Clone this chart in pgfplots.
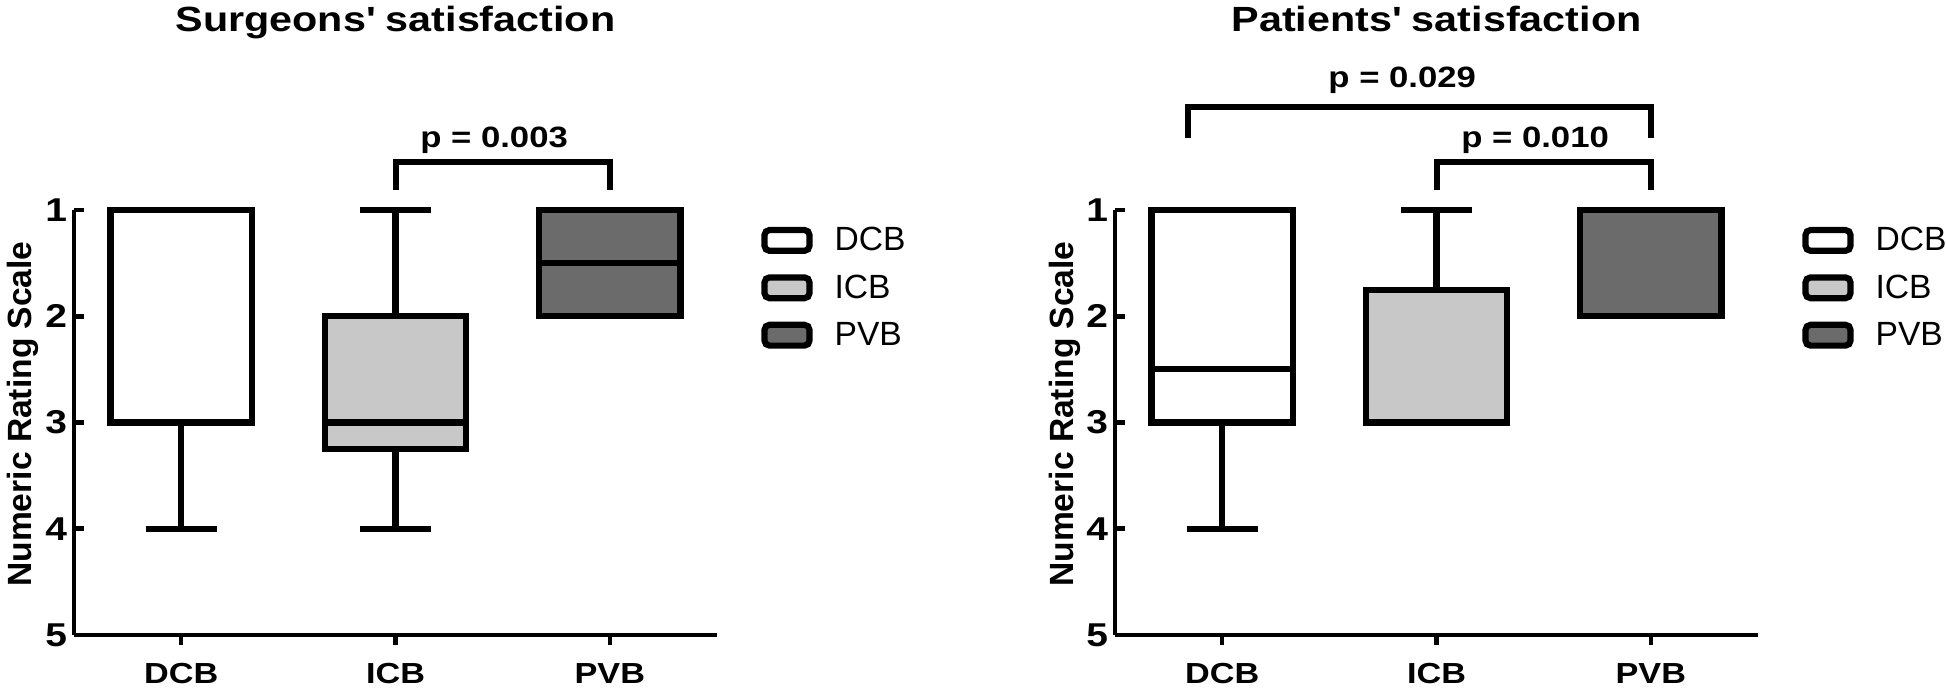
\documentclass[border=0pt]{standalone}
\usepackage{fontspec}
\setmainfont{Liberation Sans}
\newfontfamily\wb{Liberation Sans}[FakeStretch=1.18]
\usepackage{pgfplots}
\usepgfplotslibrary{statistics}
\pgfplotsset{compat=1.18}
\definecolor{icbfill}{HTML}{C8C8C8}
\definecolor{pvbfill}{HTML}{6B6B6B}

\tikzset{
  ttl/.style={font=\wb\fontsize{17.5}{21}\selectfont\bfseries, anchor=base},
  pv/.style={font=\wb\fontsize{14.7}{17}\selectfont\bfseries, anchor=base},
}
\pgfplotsset{
  nrs/.style={
    scale only axis, width=321.5pt, height=212.5pt,
    xmin=-0.5, xmax=2.5, ymin=1, ymax=5, y dir=reverse,
    axis x line*=bottom, axis y line*=left,
    axis line style={line width=2.3pt,-},
    xtick={0,1,2}, xticklabels={DCB,ICB,PVB},
    ytick={1,2,3,4,5},
    xtick align=outside, ytick align=inside,
    major tick length=5pt,
    tick style={line width=2.3pt,black},
    /pgf/number format/assume math mode=true,
    yticklabel style={font=\wb\fontsize{16.5}{19}\selectfont\bfseries},
    xticklabel style={font=\wb\fontsize{14.5}{17}\selectfont\bfseries, anchor=base, yshift=-19pt},
    ylabel={Numeric Rating Scale},
    ylabel style={font=\fontsize{16.8}{20}\selectfont\bfseries, at={([xshift=-21pt]axis description cs:0,0.52)}, anchor=base},
    clip=false,
    boxplot/draw direction=y,
    boxplot/box extend=0.66,
    boxplot/whisker extend=0.33,
    legend style={draw=none, fill=none, at={(1,1)}, anchor=north west, xshift=19pt, yshift=-6.25pt,
      font=\fontsize{16.8}{20}\selectfont, row sep=10.2pt, nodes={inner sep=0pt},
      /tikz/every odd column/.append style={column sep=11pt}},
    legend cell align=left,
  },
  bx/.style={draw=black, line width=3.1pt, fill=#1, solid, line join=miter, forget plot},
  br/.style={black, line width=3pt, line join=miter, forget plot},
  sw/.style={legend image code/.code={\draw[line width=3.1pt, fill=#1, rounded corners=2.5pt] (0pt,-5.2pt) rectangle (22.5pt,5.2pt);}},
}

\begin{document}
\begin{tikzpicture}
\path[use as bounding box] (-37pt,-26pt) rectangle (936pt,317.5pt);

% Surgeons
\begin{axis}[nrs, at={(0pt,0pt)}]
  \addplot[bx=white, boxplot prepared={draw position=0, lower whisker=1, lower quartile=1, median=3, upper quartile=3, upper whisker=4}] coordinates {};
  \addplot[bx=icbfill, boxplot prepared={draw position=1, lower whisker=1, lower quartile=2, median=3, upper quartile=3.25, upper whisker=4}] coordinates {};
  \addplot[bx=pvbfill, boxplot prepared={draw position=2, lower whisker=1, lower quartile=1, median=1.5, upper quartile=2, upper whisker=2}] coordinates {};
  \addplot[br] coordinates {(1,0.816) (1,0.548) (2,0.548) (2,0.816)};
  \node[pv] at (axis cs:1.46,0.407) {p = 0.003};
  \node[ttl] at (axis cs:1,-0.68) {Surgeons\textquotesingle\ satisfaction};
  \addlegendimage{sw=white}\addlegendentry{DCB}
  \addlegendimage{sw=icbfill}\addlegendentry{ICB}
  \addlegendimage{sw=pvbfill}\addlegendentry{PVB}
\end{axis}

% Patients
\begin{axis}[nrs, at={(520.5pt,0pt)}]
  \addplot[bx=white, boxplot prepared={draw position=0, lower whisker=1, lower quartile=1, median=2.5, upper quartile=3, upper whisker=4}] coordinates {};
  \addplot[bx=icbfill, boxplot prepared={draw position=1, lower whisker=1, lower quartile=1.75, median=3, upper quartile=3, upper whisker=3}] coordinates {};
  \addplot[bx=pvbfill, boxplot prepared={draw position=2, lower whisker=1, lower quartile=1, median=1, upper quartile=2, upper whisker=2}] coordinates {};
  \addplot[br] coordinates {(-0.16,0.322) (-0.16,0.031) (2,0.031) (2,0.322)};
  \addplot[br] coordinates {(1,0.816) (1,0.548) (2,0.548) (2,0.816)};
  \node[pv] at (axis cs:0.84,-0.152) {p = 0.029};
  \node[pv] at (axis cs:1.46,0.407) {p = 0.010};
  \node[ttl] at (axis cs:1,-0.68) {Patients\textquotesingle\ satisfaction};
  \addlegendimage{sw=white}\addlegendentry{DCB}
  \addlegendimage{sw=icbfill}\addlegendentry{ICB}
  \addlegendimage{sw=pvbfill}\addlegendentry{PVB}
\end{axis}
\end{tikzpicture}
\end{document}
